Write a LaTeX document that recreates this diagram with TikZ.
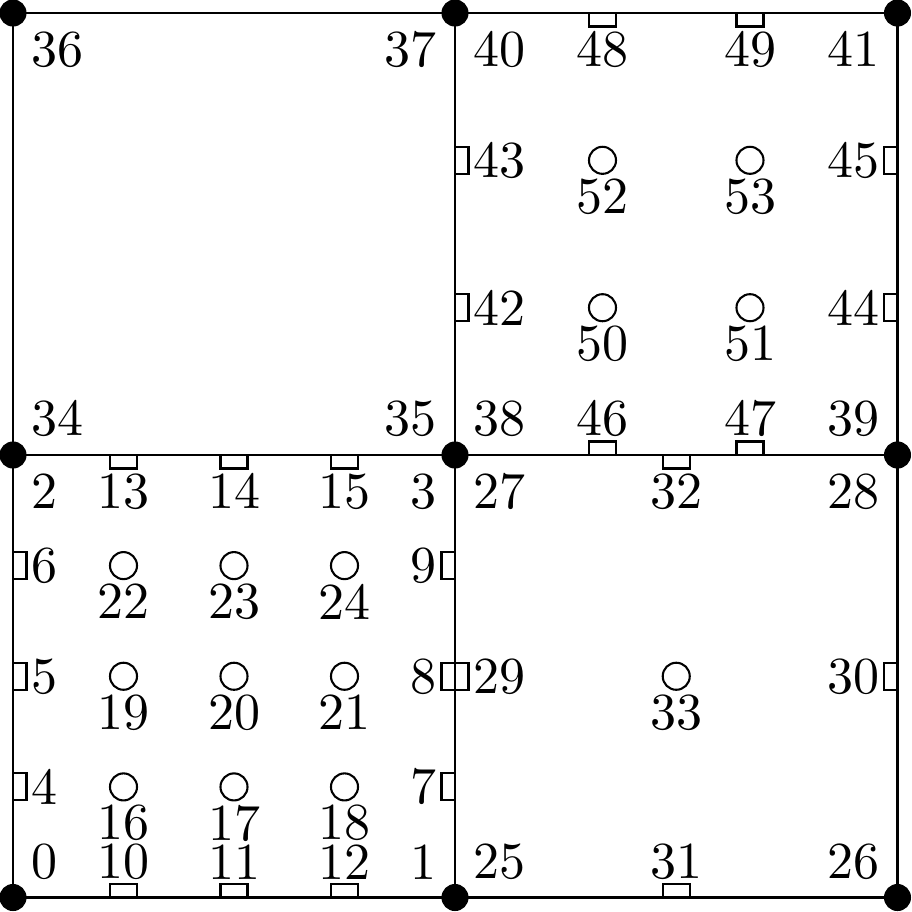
\documentclass[tikz,border=0pt]{standalone}
\newcommand\dofW[3]{\draw[dofbox] (#1,#2-13.5) rectangle (#1+13.5,#2+13.5); \node[anchor=west] (n#3) at (#1,#2) {#3};}
\newcommand\dofE[3]{\draw[dofbox] (#1-13.5,#2-13.5) rectangle (#1,#2+13.5); \node[anchor=east] (n#3) at (#1,#2) {#3};}
\newcommand\dofS[3]{\draw[dofbox] (#1-13.5,#2-13.5) rectangle (#1+13.5,#2); \node[anchor=south] (n#3) at (#1,#2) {#3};}
\newcommand\dofN[3]{\draw[dofbox] (#1-13.5,#2) rectangle (#1+13.5,#2+13.5); \node[anchor=north] (n#3) at (#1,#2) {#3};}
\newcommand\dofI[3]{\draw[dofbox] (#1,#2) circle[radius=2.6pt]; \node[anchor=north] (n#3) at (#1,#2) {#3};}
\newcommand\vlab[4]{\node[anchor=#3] (n#4) at (#1,#2) {#4};}
\begin{document}
\begin{tikzpicture}[x=0.1923pt,y=-0.1923pt,
  dofbox/.style={draw=black,line width=0.4pt},
  vdot/.style={fill=black}]
\useasboundingbox (0,0) rectangle (912,912);
% grid
\coordinate (A) at (13,13);
\coordinate (B) at (897.5,897.5);
\draw[line width=0.4pt] (A) rectangle (B);
\draw[line width=0.4pt] (455,13) -- (455,897.5);
\draw[line width=0.4pt] (13,455) -- (897.5,455);
% vertex labels
\vlab{13}{897.5}{south west}{0}
\vlab{455}{897.5}{south east}{1}
\vlab{13}{455}{north west}{2}
\vlab{455}{455}{north east}{3}
\vlab{455}{897.5}{south west}{25}
\vlab{897.5}{897.5}{south east}{26}
\vlab{455}{455}{north west}{27}
\vlab{897.5}{455}{north east}{28}
\vlab{13}{455}{south west}{34}
\vlab{455}{455}{south east}{35}
\vlab{13}{13}{north west}{36}
\vlab{455}{13}{north east}{37}
\vlab{455}{455}{south west}{38}
\vlab{897.5}{455}{south east}{39}
\vlab{455}{13}{north west}{40}
\vlab{897.5}{13}{north east}{41}
% lower-left element
\dofW{13}{786.9}{4}
\dofW{13}{676.25}{5}
\dofW{13}{565.6}{6}
\dofE{455}{786.9}{7}
\dofE{455}{676.25}{8}
\dofE{455}{565.6}{9}
\dofS{123.5}{897.5}{10}
\dofS{234}{897.5}{11}
\dofS{344.5}{897.5}{12}
\dofN{123.5}{455}{13}
\dofN{234}{455}{14}
\dofN{344.5}{455}{15}
\dofI{123.5}{786.9}{16}
\dofI{234}{786.9}{17}
\dofI{344.5}{786.9}{18}
\dofI{123.5}{676.25}{19}
\dofI{234}{676.25}{20}
\dofI{344.5}{676.25}{21}
\dofI{123.5}{565.6}{22}
\dofI{234}{565.6}{23}
\dofI{344.5}{565.6}{24}
% lower-right element
\dofW{455}{676.25}{29}
\dofE{897.5}{676.25}{30}
\dofS{676.25}{897.5}{31}
\dofN{676.25}{455}{32}
\dofI{676.25}{676.25}{33}
% upper-right element
\dofW{455}{307.7}{42}
\dofW{455}{160.3}{43}
\dofE{897.5}{307.7}{44}
\dofE{897.5}{160.3}{45}
\dofS{602.5}{455}{46}
\dofS{750}{455}{47}
\dofN{602.5}{13}{48}
\dofN{750}{13}{49}
\dofI{602.5}{307.7}{50}
\dofI{750}{307.7}{51}
\dofI{602.5}{160.3}{52}
\dofI{750}{160.3}{53}
% vertex dots
\foreach \px in {13,455,897.5}
  \foreach \py in {13,455,897.5}
    \fill[vdot] (\px,\py) circle[radius=2.6pt];
\end{tikzpicture}
\end{document}
